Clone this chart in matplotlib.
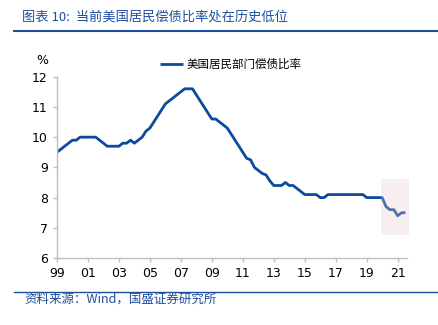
import matplotlib
matplotlib.use("Agg")
import matplotlib.pyplot as plt
from matplotlib.patches import Rectangle
import numpy as np

plt.rcParams['font.family'] = ['Noto Sans CJK SC', 'DejaVu Sans']

start_year = 1999.0
values = [
    9.5, 9.6, 9.7, 9.8,      # 1999
    9.9, 9.9, 10.0, 10.0,    # 2000
    10.0, 10.0, 10.0, 9.9,   # 2001
    9.8, 9.7, 9.7, 9.7,      # 2002
    9.7, 9.8, 9.8, 9.9,      # 2003
    9.8, 9.9, 10.0, 10.2,    # 2004
    10.3, 10.5, 10.7, 10.9,  # 2005
    11.1, 11.2, 11.3, 11.4,  # 2006
    11.5, 11.6, 11.6, 11.6,  # 2007
    11.4, 11.2, 11.0, 10.8,  # 2008
    10.6, 10.6, 10.5, 10.4,  # 2009
    10.3, 10.1, 9.9, 9.7,    # 2010
    9.5, 9.3, 9.25, 9.0,     # 2011
    8.9, 8.8, 8.75, 8.55,    # 2012
    8.4, 8.4, 8.4, 8.5,      # 2013
    8.4, 8.4, 8.3, 8.2,      # 2014
    8.1, 8.1, 8.1, 8.1,      # 2015
    8.0, 8.0, 8.1, 8.1,      # 2016
    8.1, 8.1, 8.1, 8.1,      # 2017
    8.1, 8.1, 8.1, 8.1,      # 2018
    8.0, 8.0, 8.0, 8.0,      # 2019
    8.0, 7.7, 7.6, 7.6,      # 2020
    7.4, 7.5, 7.5,           # 2021
]
tick_years = list(range(1999, 2022, 2))
tick_labels = [f"{y % 100:02d}" for y in tick_years]
series_name = "美国居民部门偿债比率"
title = "图表 10:  当前美国居民偿债比率处在历史低位"
source = "资料来源：Wind，国盛证券研究所"
highlight_x = (2019.92, 2021.7)
highlight_y = (6.77, 8.6)

x = start_year + np.arange(len(values)) * 0.25

fig = plt.figure(figsize=(4.38, 3.25), dpi=100)
ax = fig.add_axes([0.130, 0.206, 0.7985, 0.558])

line_color = '#0b4a9c'
ax.plot(x, values, color=line_color, lw=2.0, label=series_name, zorder=2,
        solid_capstyle='butt')
ax.add_patch(Rectangle((highlight_x[0], highlight_y[0]),
                       highlight_x[1] - highlight_x[0],
                       highlight_y[1] - highlight_y[0],
                       facecolor='#e6cbcf', alpha=0.32, edgecolor='none',
                       zorder=3, clip_on=False))

ax.set_xlim(1999.0, 2021.58)
ax.set_ylim(6, 12)
ax.set_xticks(tick_years)
ax.set_xticklabels(tick_labels)
ax.set_yticks(range(6, 13))

for s in ['top', 'right']:
    ax.spines[s].set_visible(False)
for s in ['left', 'bottom']:
    ax.spines[s].set_color('#bfbfbf')
    ax.spines[s].set_linewidth(1.0)
ax.tick_params(axis='both', colors='#bfbfbf', length=3, width=1,
               labelcolor='#000000', labelsize=9)
for lab in ax.get_xticklabels() + ax.get_yticklabels():
    lab.set_family('DejaVu Sans')

leg = ax.legend(loc='upper center', bbox_to_anchor=(0.497, 1.16), frameon=False,
                fontsize=8.3, handlelength=2.0, handletextpad=0.25)

fig.text(42 / 438, 1 - 61 / 325, '%', fontsize=9, ha='center', va='center',
         family='DejaVu Sans')

fig.text(22 / 438, 1 - 17 / 325, title, fontsize=9.5, color='#1f4e9c',
         style='italic', ha='left', va='center')
fig.add_artist(plt.Line2D([14 / 438, 1.0], [1 - 31 / 325] * 2,
                          color='#1f4e9c', lw=1.5, transform=fig.transFigure))
fig.add_artist(plt.Line2D([14 / 438, 1.0], [1 - 292 / 325] * 2,
                          color='#1f4e9c', lw=1.0, transform=fig.transFigure))
fig.text(24 / 438, 1 - 299 / 325, source, fontsize=9, color='#1f4e9c',
         style='italic', ha='left', va='center')

fig.savefig('out.png', dpi=100)
